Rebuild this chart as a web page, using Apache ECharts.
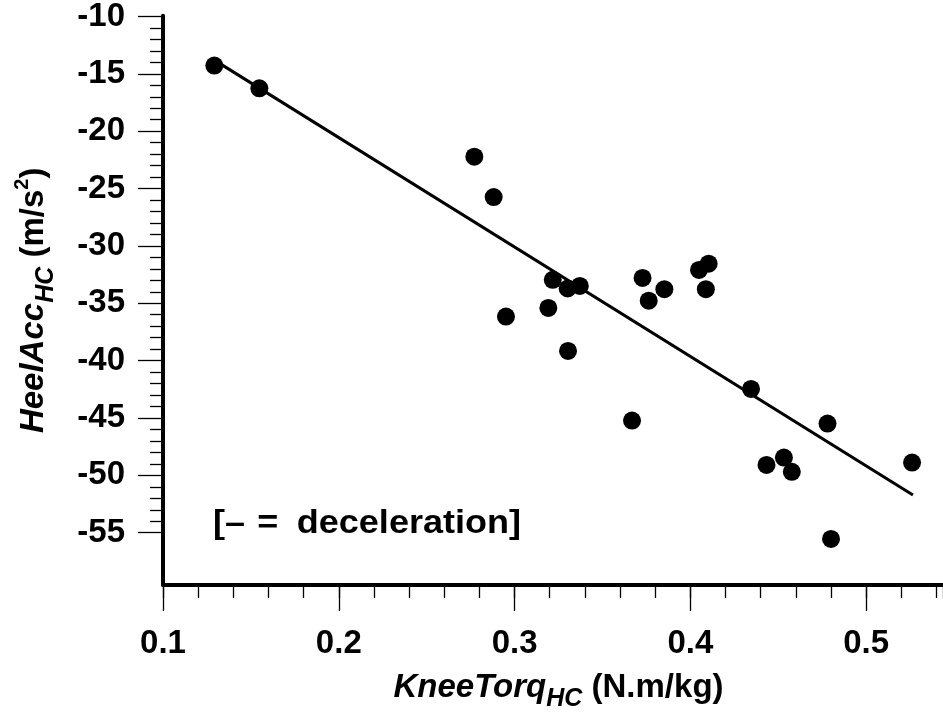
<!DOCTYPE html>
<html><head><meta charset="utf-8">
<script src="https://cdn.jsdelivr.net/npm/echarts@6/dist/echarts.min.js"></script>
<style>html,body{margin:0;padding:0;background:#fff}#c{width:943px;height:717px}</style>
</head><body><div id="c"></div>
<script>
// Data
const kneeTorq = [0.1292,0.1548,0.2771,0.2881,0.2951,0.3192,0.3217,0.3302,0.3371,0.3304,0.3668,0.3728,0.3763,0.3852,0.4049,0.4104,0.4088,0.4345,0.4780,0.4433,0.4532,0.4577,0.5261,0.4800];
const heelAcc  = [-14.38,-16.38,-22.38,-25.93,-36.42,-35.67,-33.20,-33.96,-33.73,-39.44,-45.56,-33.03,-35.03,-34.02,-32.33,-31.78,-34.02,-42.78,-45.82,-49.45,-48.81,-50.06,-49.25,-55.95];
const fitX = [0.1292, 0.5266];
const fitY = [-13.9, -52.1];
// Axis ranges / tick labels
const xTickLabels = ['0.1','0.2','0.3','0.4','0.5'];
const yTickLabels = ['-55','-50','-45','-40','-35','-30','-25','-20','-15','-10'];

const FONT = 'Liberation Sans, Arial, sans-serif';
const chart = echarts.init(document.getElementById('c'), null, {renderer:'canvas'});

const points = kneeTorq.map((x,i)=>[x, heelAcc[i]]);
const fitLine = fitX.map((x,i)=>[x, fitY[i]]);

const lbl = {fontFamily:FONT, fontWeight:'bold', fontSize:33, color:'#000'};
const X_MAX = 0.5437;

function xFmt(v){
  const k=(v-0.1)/0.1, i=Math.round(k);
  return Math.abs(k-i)<1e-6 ? (xTickLabels[i]||'') : '';
}

chart.setOption({
  animation:false,
  backgroundColor:'#fff',
  grid:[
    {left:163, right:0, top:15.7, bottom:126.8},
    {left:163, right:0, top:15.7, bottom:184.3}
  ],
  xAxis:[
    {
      type:'value', gridIndex:0, min:0.1, max:X_MAX, interval:0.1, position:'bottom',
      axisLine:{show:true, onZero:false, lineStyle:{color:'#000', width:4}},
      axisTick:{show:true, inside:false, length:26, lineStyle:{color:'#000', width:1.3}},
      minorTick:{show:false},
      splitLine:{show:false},
      axisLabel:Object.assign({margin:42, lineHeight:33, showMaxLabel:false, formatter:xFmt}, lbl),
      name:'{i|KneeTorq}{sub|HC}{n| (N.m/kg)}',
      nameLocation:'middle', nameGap:86,
      nameTextStyle:{
        padding:[0,0,0,11],
        rich:{
          i:{fontFamily:FONT, fontWeight:'bold', fontStyle:'italic', fontSize:33, lineHeight:33, verticalAlign:'top', padding:[0,0,0,0], color:'#000'},
          sub:{fontFamily:FONT, fontWeight:'bold', fontStyle:'italic', fontSize:25, lineHeight:25, verticalAlign:'top', padding:[16,0,0,0], color:'#000'},
          n:{fontFamily:FONT, fontWeight:'bold', fontSize:33, lineHeight:33, verticalAlign:'top', padding:[0,0,0,0], color:'#000'}
        }
      }
    },
    {
      type:'value', gridIndex:0, min:0.1, max:X_MAX, interval:0.02, position:'bottom', offset:0,
      axisLine:{show:false},
      axisTick:{show:true, inside:false, length:13, lineStyle:{color:'#000', width:1.3}},
      axisLabel:{show:false}, splitLine:{show:false}, minorTick:{show:false}
    },
    {type:'value', gridIndex:1, min:0.1, max:X_MAX, show:false}
  ],
  yAxis:[
    {
      type:'value', gridIndex:0, min:-60, max:-10, interval:5,
      axisLine:{show:true, onZero:false, lineStyle:{color:'#000', width:4}},
      axisTick:{show:false}, minorTick:{show:false}, splitLine:{show:false},
      axisLabel:{show:false},
      name:'{i|HeelAcc}{sub|HC}{n| (m/s}{sup|2}{n|)}',
      nameLocation:'middle', nameGap:118, nameRotate:90,
      nameTextStyle:{
        rich:{
          i:{fontFamily:FONT, fontWeight:'bold', fontStyle:'italic', fontSize:33, lineHeight:33, verticalAlign:'top', padding:[5,0,0,0], color:'#000'},
          sub:{fontFamily:FONT, fontWeight:'bold', fontStyle:'italic', fontSize:25, lineHeight:25, verticalAlign:'top', padding:[22,0,0,0], color:'#000'},
          n:{fontFamily:FONT, fontWeight:'bold', fontSize:33, lineHeight:33, verticalAlign:'top', padding:[5,0,0,0], color:'#000'},
          sup:{fontFamily:FONT, fontWeight:'bold', fontSize:20, lineHeight:20, verticalAlign:'top', padding:[0,0,0,0], color:'#000'}
        }
      }
    },
    {
      type:'value', gridIndex:1, min:-55, max:-10, interval:5,
      axisLine:{show:false},
      axisTick:{show:true, inside:false, length:25, lineStyle:{color:'#000', width:1.3}},
      minorTick:{show:true, splitNumber:5, length:13, lineStyle:{color:'#000', width:1.3}},
      splitLine:{show:false},
      axisLabel:Object.assign({margin:38, padding:[10,0,0,0],
        formatter:(v)=>{const i=Math.round((v+55)/5); return yTickLabels[i]||'';}}, lbl)
    }
  ],
  graphic:[
    {
      type:'text', x:213, y:524, scaleX:1.06,
      style:{
        text:'{a|[–} {b|=} {c|deceleration]}',
        fontFamily:FONT, fontWeight:'bold', fontSize:34, fill:'#000', verticalAlign:'middle',
        rich:{
          a:{fontFamily:FONT, fontWeight:'bold', fontSize:34, padding:[0,2,0,0]},
          b:{fontFamily:FONT, fontWeight:'bold', fontSize:34, padding:[0,8,0,0]},
          c:{fontFamily:FONT, fontWeight:'bold', fontSize:34}
        }
      }
    }
  ],
  series:[
    {
      type:'line', xAxisIndex:0, yAxisIndex:0, data:fitLine,
      showSymbol:false, symbol:'none', lineStyle:{color:'#000', width:3}, z:2
    },
    {
      type:'scatter', xAxisIndex:0, yAxisIndex:0, data:points,
      symbol:'circle', symbolSize:18, itemStyle:{color:'#000', opacity:1}, z:3
    }
  ]
});
</script></body></html>
